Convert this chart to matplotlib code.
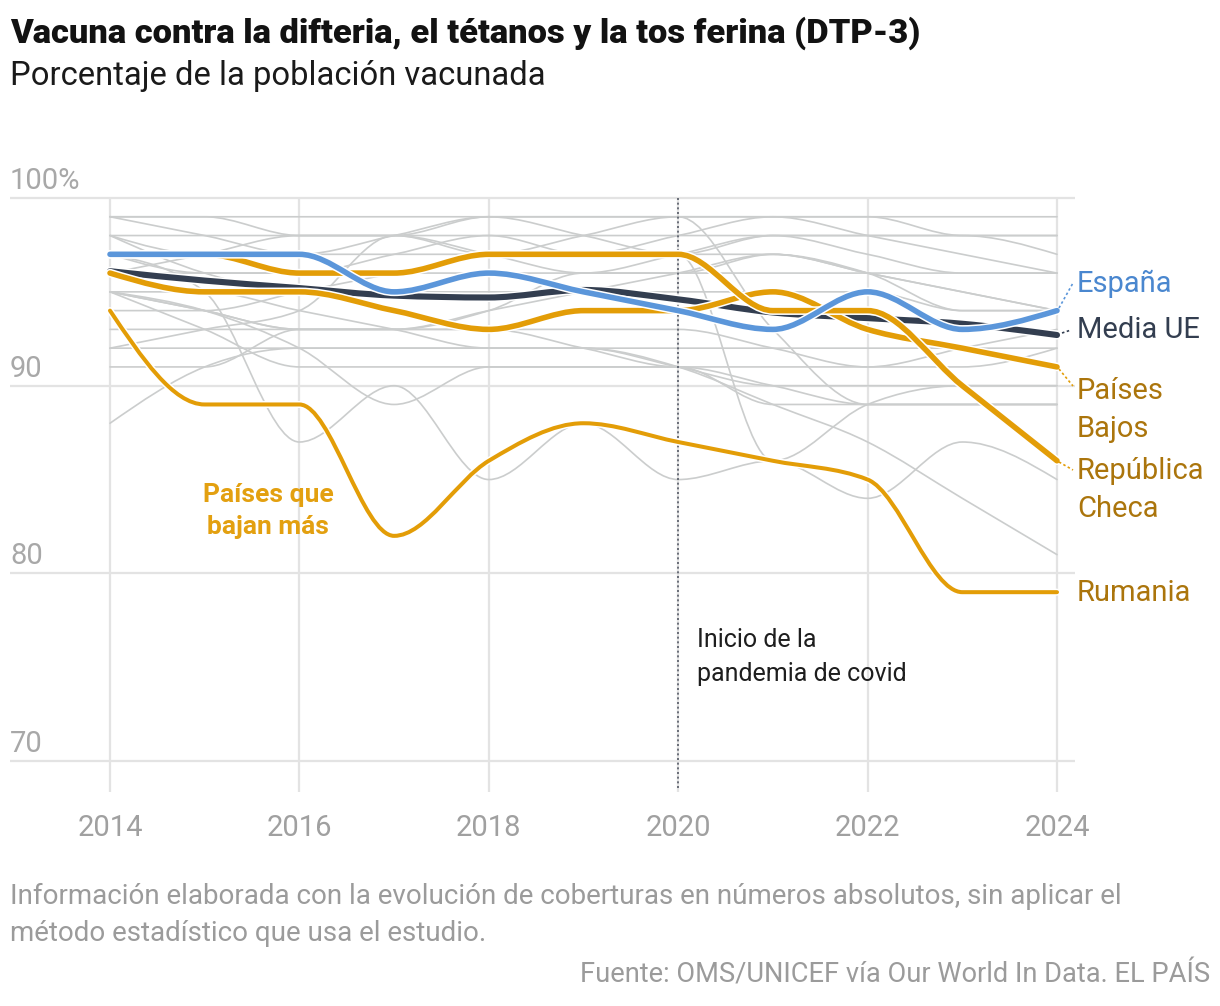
import numpy as np
import matplotlib
matplotlib.use("Agg")
import matplotlib.pyplot as plt
from matplotlib.path import Path
from matplotlib.patches import PathPatch
import matplotlib.patheffects as pe

plt.rcParams['font.family'] = ['Roboto', 'DejaVu Sans']

years = [2014, 2015, 2016, 2017, 2018, 2019, 2020, 2021, 2022, 2023, 2024]

espana = [97, 97, 97, 95, 96, 95, 94, 93, 95, 93, 94]
media_ue = [96.1, 95.6, 95.2, 94.8, 94.7, 95.1, 94.6, 93.9, 93.6, 93.3, 92.7]
paises_bajos = [96, 95, 95, 94, 93, 94, 94, 95, 93, 92, 91]
rep_checa = [97, 97, 96, 96, 97, 97, 97, 94, 94, 90, 86]
rumania = [94, 89, 89, 82, 86, 88, 87, 86, 85, 79, 79]

otros = [
    [99, 99, 99, 99, 99, 99, 99, 99, 99, 99, 99],
    [98, 98, 98, 98, 98, 98, 98, 98, 98, 98, 98],
    [99, 99, 98, 98, 99, 99, 99, 99, 98, 97, 96],
    [98, 97, 97, 98, 99, 98, 97, 98, 98, 98, 97],
    [97, 96, 96, 97, 98, 97, 98, 99, 99, 98, 98],
    [96, 96, 96, 96, 96, 96, 96, 96, 96, 96, 96],
    [95, 94, 93, 93, 94, 96, 96, 97, 96, 95, 94],
    [95, 93, 91, 91, 91, 91, 91, 89, 89, 89, 89],
    [92, 92, 92, 92, 92, 92, 92, 92, 92, 92, 92],
    [92, 93, 94, 98, 97, 96, 97, 98, 97, 96, 96],
    [88, 91, 92, 92, 92, 92, 91, 90, 90, 90, 90],
    [97, 95, 87, 90, 85, 88, 85, 86, 84, 87, 85],
    [95, 94, 92, 89, 91, 91, 91, 90, 89, 89, 89],
    [95, 94, 93, 93, 93, 93, 93, 92, 91, 91, 92],
    [91, 91, 93, 93, 94, 95, 96, 97, 96, 94, 94],
    [98, 96, 95, 95, 95, 95, 95, 95, 95, 94, 94],
    [95, 95, 94, 93, 92, 92, 91, 89, 87, 84, 81],
    [99, 98, 97, 97, 97, 98, 99, 93, 89, 89, 89],
    [94, 94, 95, 96, 97, 97, 97, 86, 89, 90, 90],
    [93, 93, 93, 93, 93, 92, 91, 91, 91, 92, 93],
    [96, 97, 98, 98, 97, 97, 97, 97, 96, 95, 94],
]

y_ticks = [100, 90, 80, 70]
y_tick_labels = ["100%", "90", "80", "70"]
x_ticks = [2014, 2016, 2018, 2020, 2022, 2024]

W, H = 1220, 1006
fig = plt.figure(figsize=(W / 100, H / 100), dpi=100)

# axes placement in pixels
px_per_year = 94.7
x_left_px, x_right_px = 10, 1075
xmin = 2014 - (110 - x_left_px) / px_per_year
xmax = 2024 + (x_right_px - 1057) / px_per_year
px_per_unit = 18.77
top_px, bot_px = 190, 792
ymax = 100 + (198 - top_px) / px_per_unit
ymin = 100 - (bot_px - 198) / px_per_unit
ax = fig.add_axes([x_left_px / W, 1 - bot_px / H, (x_right_px - x_left_px) / W, (bot_px - top_px) / H])
ax.set_xlim(xmin, xmax)
ax.set_ylim(ymin, ymax)
ax.axis('off')


def monotone_path(xs, ys):
    xs = np.asarray(xs, float)
    ys = np.asarray(ys, float)
    n = len(xs)
    h = np.diff(xs)
    s = np.diff(ys) / h
    t = np.zeros(n)
    for i in range(1, n - 1):
        s0, s1 = s[i - 1], s[i]
        h0, h1 = h[i - 1], h[i]
        p = (s0 * h1 + s1 * h0) / (h0 + h1)
        t[i] = (np.sign(s0) + np.sign(s1)) * min(abs(s0), abs(s1), 0.5 * abs(p))
    t[0] = (3 * s[0] - t[1]) / 2
    t[-1] = (3 * s[-1] - t[-2]) / 2
    verts = [(xs[0], ys[0])]
    codes = [Path.MOVETO]
    for i in range(n - 1):
        dx = (xs[i + 1] - xs[i]) / 3
        verts += [(xs[i] + dx, ys[i] + dx * t[i]),
                  (xs[i + 1] - dx, ys[i + 1] - dx * t[i + 1]),
                  (xs[i + 1], ys[i + 1])]
        codes += [Path.CURVE4] * 3
    return Path(verts, codes)


def draw_line(vals, color, lw, halo=False, z=3):
    patch = PathPatch(monotone_path(years, vals), facecolor='none', edgecolor=color,
                      linewidth=lw, capstyle='round', joinstyle='round', zorder=z)
    if halo:
        patch.set_path_effects([pe.Stroke(linewidth=lw + 2.2, foreground='white'), pe.Normal()])
    ax.add_patch(patch)


# grid
for yv in y_ticks:
    ax.plot([xmin, xmax], [yv, yv], color='#e3e3e3', lw=1.6, zorder=0, solid_capstyle='butt')
for xv in x_ticks:
    ax.plot([xv, xv], [ymin, 100], color='#e3e3e3', lw=1.6, zorder=0, solid_capstyle='butt')

# grey countries
for vals in otros:
    draw_line(vals, '#cbcdcd', 1.2, z=1)

# 2020 marker
ax.plot([2020, 2020], [ymin + 0.2, 100], color='#555a66', lw=1.2, ls=(0, (1.2, 1.6)), zorder=2)

orange = '#e39d07'
blue = '#5b96da'
dark = '#333e50'
draw_line(media_ue, dark, 4.4, halo=True, z=4)
draw_line(rumania, orange, 2.9, halo=True, z=5)
draw_line(paises_bajos, orange, 4.0, halo=True, z=5)
draw_line(rep_checa, orange, 4.0, halo=True, z=5)
draw_line(espana, blue, 4.0, halo=True, z=6)


def ftext(x, y, s, **kw):
    return fig.text(x / W, 1 - y / H, s, **kw)


# y tick labels
for yv, lab in zip(y_ticks, y_tick_labels):
    ypx = 198 + (100 - yv) * px_per_unit
    ftext(10, ypx - 9, lab, fontsize=21, color='#a8a8a8', ha='left', va='baseline')
# x tick labels
for xv in x_ticks:
    xpx = 110 + (xv - 2014) * px_per_year
    ftext(xpx, 828, str(xv), fontsize=21, color='#a0a0a0', ha='center', va='center')

# title
ftext(10, 33, "Vacuna contra la difteria, el tétanos y la tos ferina (DTP-3)", fontsize=24.8,
      fontweight='black', color='#121212', ha='left', va='center')
ftext(10, 76, "Porcentaje de la población vacunada", fontsize=23.6, color='#1a1a1a',
      ha='left', va='center')

# end labels
lab_orange = '#ab750c'
lbl = dict(fontsize=21, ha='left', va='center')
ftext(1077, 284, "España", color='#4a87cf', **lbl)
ftext(1077, 330, "Media UE", color=dark, **lbl)
ftext(1077, 410, "Países\nBajos", color=lab_orange, linespacing=1.43, **lbl)
ftext(1077, 490, "República\nCheca", color=lab_orange, linespacing=1.43, **lbl)
ftext(1077, 593, "Rumania", color=lab_orange, **lbl)

# connector dotted lines (in data coords)
def px2data(xp, yp):
    return (2014 + (xp - 110) / px_per_year, 100 - (yp - 198) / px_per_unit)

conn = [((1059, 308), (1073, 283), '#5b96da'),
        ((1062, 333), (1071, 330), dark),
        ((1059, 369), (1073, 386), orange),
        ((1059, 462), (1073, 470), orange)]
for (a, b, c) in conn:
    pa, pb = px2data(*a), px2data(*b)
    ax.plot([pa[0], pb[0]], [pa[1], pb[1]], color=c, lw=1.2, ls=(0, (1.5, 1.5)),
            clip_on=False, zorder=7)

# annotations
ftext(268, 511, "Países que\nbajan más", fontsize=19, fontweight='bold', color='#e3a010',
      ha='center', va='center', linespacing=1.41)
ftext(697, 657, "Inicio de la\npandemia de covid", fontsize=18, color='#1e1e1e',
      ha='left', va='center', linespacing=1.49)

# footnotes
ftext(10, 915, "Información elaborada con la evolución de coberturas en números absolutos, sin aplicar el\n"
      "método estadístico que usa el estudio.", fontsize=20, color='#9b9b9b', ha='left',
      va='center', linespacing=1.5)
ftext(1210, 975, "Fuente: OMS/UNICEF vía Our World In Data. EL PAÍS", fontsize=19.6,
      color='#9b9b9b', ha='right', va='center')

fig.savefig("out.png", dpi=100)
